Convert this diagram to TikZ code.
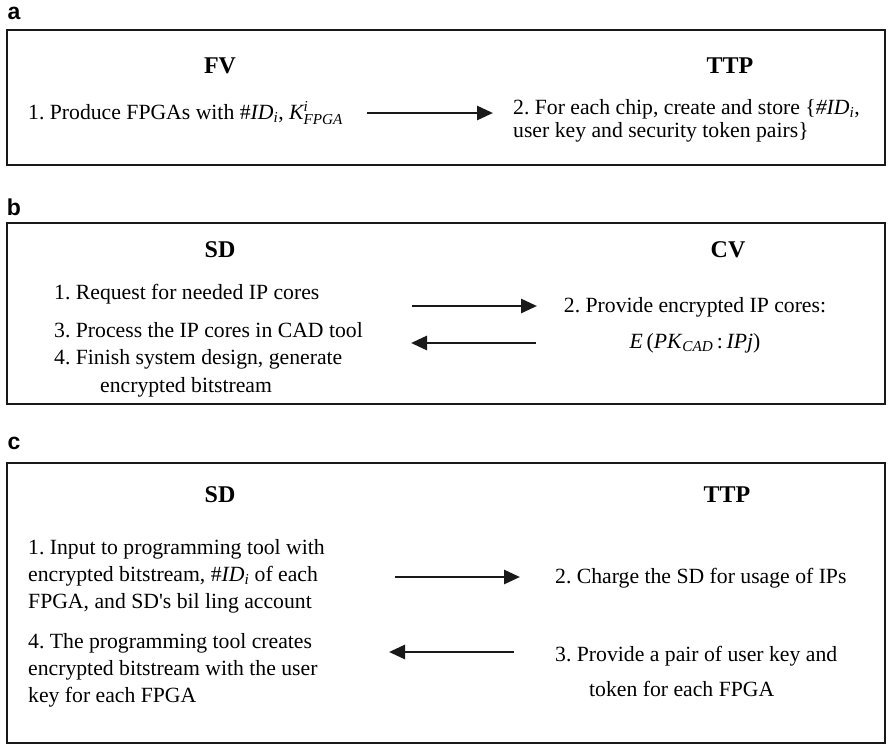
\documentclass[tikz,border=0pt]{standalone}
\usepackage{amsmath}
\usepackage{fontspec}
\setmainfont{Liberation Serif}[Ligatures=TeXOff]
\setsansfont{Liberation Sans}
\usetikzlibrary{arrows.meta}
\frenchspacing
\begin{document}
\begin{tikzpicture}[x=1pt,y=-1pt,
  panel/.style={draw=black!90,line width=1.8pt},
  tag/.style={font=\sffamily\bfseries\fontsize{23}{26}\selectfont,inner sep=0pt},
  party/.style={font=\bfseries\fontsize{24}{28}\selectfont,inner sep=0pt},
  stepbox/.style={font=\fontsize{21.7}{27}\selectfont,inner sep=0pt,anchor=west,align=left},
  msg/.style={line width=2.8pt,draw=black!90,-{Triangle[length=16pt,width=14pt]}}]
\useasboundingbox (0,0) rectangle (888,745);

% ---- panel a: FV -> TTP
\node[tag] (la) at (14,13) {a};
\draw[panel] (7,30) rectangle (885,165);
\node[party] (fv) at (220,66) {FV};
\node[party] (ttpa) at (730,66) {TTP};
\node[stepbox] (a1) at (28,113) {1. Produce FPGAs with \#\textit{ID}$_{\textit{i}}$, $\textit{K}^{\textit{i}}_{\textit{FPGA}}$};
\node[stepbox,font=\fontsize{21.7}{23}\selectfont] (a2) at (513,121) {2. For each chip, create and store \{\textit{\#ID}$_{\textit{i}}$,\\user key and security token pairs\}};
\coordinate (a1e) at (367,113);
\coordinate (a2e) at (493,113);
\draw[msg] (a1e) -- (a2e);

% ---- panel b: SD <-> CV
\node[tag] (lb) at (14,207) {b};
\draw[panel] (7,223) rectangle (885,404);
\node[party] (sdb) at (220,250) {SD};
\node[party] (cv) at (728,250) {CV};
\node[stepbox] (b1) at (54,294) {1. Request for needed IP cores};
\node[stepbox] (b3) at (54,330) {3. Process the IP cores in CAD tool};
\node[stepbox,font=\fontsize{21.7}{28}\selectfont] (b4) at (54,373) {4. Finish system design, generate\\\hspace*{46pt}encrypted bitstream};
\node[stepbox,font=\fontsize{21.7}{36}\selectfont,align=center,anchor=center] (b2) at (695,325) {2. Provide encrypted IP cores:\\\textit{E}\,(\textit{PK}$_{\textit{CAD}}$\,:\,\textit{IPj})};
\coordinate (b1e) at (412,306);
\coordinate (b2e) at (537,306);
\coordinate (b3e) at (411,343);
\coordinate (b4e) at (536,343);
\draw[msg] (b1e) -- (b2e);
\draw[msg] (b4e) -- (b3e);

% ---- panel c: SD <-> TTP
\node[tag] (lc) at (14,443) {c};
\draw[panel] (7,463) rectangle (885,743);
\node[party] (sdc) at (220,495) {SD};
\node[party] (ttpc) at (727,495) {TTP};
\node[stepbox] (c1) at (28,576) {1. Input to programming tool with\\encrypted bitstream, \#\textit{ID}$_{\textit{i}}$ of each\\FPGA, and SD's bil ling account};
\node[stepbox] (c4) at (28,670) {4. The programming tool creates\\encrypted bitstream with the user\\key for each FPGA};
\node[stepbox] (c2) at (555,578) {2. Charge the SD for usage of IPs};
\node[stepbox,font=\fontsize{21.7}{35}\selectfont] (c3) at (555,671) {3. Provide a pair of user key and\\\hspace*{34pt}token for each FPGA};
\coordinate (c1e) at (395,577);
\coordinate (c2e) at (520,577);
\coordinate (c3e) at (389,652);
\coordinate (c4e) at (514,652);
\draw[msg] (c1e) -- (c2e);
\draw[msg] (c4e) -- (c3e);
\end{tikzpicture}
\end{document}
